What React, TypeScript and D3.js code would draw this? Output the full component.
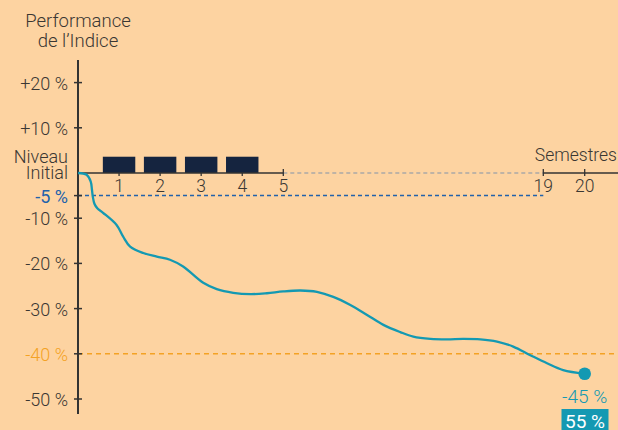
import React from 'react';
import * as d3 from 'd3';

// y axis ticks (percent)
const yTicks = [20, 10, -10, -20, -30, -40, -50];
const yTickLabels = ['+20 %', '+10 %', '-10 %', '-20 %', '-30 %', '-40 %', '-50 %'];
// x axis semesters
const xTicks = [1, 2, 3, 4, 5, 19, 20];
// coupon bars for semesters 1..4 (height in %)
const barSemesters = [1, 2, 3, 4];
const barValues = [3.6, 3.6, 3.6, 3.6];
// index performance path (semester, %)
const perfX = [0, 0.21, 0.31, 0.34, 0.36, 0.4, 0.47, 0.61, 0.94, 1.1, 1.27, 1.59, 1.92, 2.24, 2.56, 3.05, 3.38, 3.78, 4.2, 4.6, 5.0, 5.92, 6.81, 7.69, 8.61, 9.51, 10.39, 11.3, 12.0, 12.92, 13.82, 14.69, 15.61, 16.51, 17.38, 18.3, 19.09, 19.48, 20];
const perfY = [0, -0.4, -1.9, -3.7, -5.2, -6.8, -7.8, -8.8, -11.5, -14.1, -16.3, -17.7, -18.5, -19.2, -20.7, -24.3, -25.7, -26.5, -26.8, -26.6, -26.2, -26.0, -26.3, -27.4, -29.2, -31.4, -33.6, -35.2, -36.2, -36.7, -36.8, -36.7, -36.8, -37.3, -38.4, -40.3, -42.1, -43.6, -44.4];
const barrierLevel = -5;
const protectionLevel = -40;
const finalLabel = '-45 %';
const boxLabel = '55 %';

const W = 618;
const H = 430;
const font = 'Roboto, "Open Sans", sans-serif';
const textCol = '#3a3733';
const teal = '#1499b2';
const orange = '#f4a224';
const blue = '#2262ab';

export default function App() {
  const x = d3.scaleLinear().domain([0, 5, 19, 20]).range([78, 283.3, 543.3, 584.7]);
  const y = d3.scaleLinear().domain([0, -50]).range([173, 399]);
  const axisX = x(0);
  const y0 = y(0);

  const pts: [number, number][] = perfX.map((v, i) => [v, perfY[i]]);
  const line = d3.line<[number, number]>()
    .x(d => x(d[0]))
    .y(d => y(d[1]))
    .curve(d3.curveCatmullRom.alpha(0.5));

  const last = pts[pts.length - 1];
  const halfBar = 0.395;

  return (
    <svg width={W} height={H} style={{ position: 'absolute', left: 0, top: 0, fontFamily: font, fontWeight: 300 }}>
      <rect x={0} y={0} width={W} height={H} fill="#fdd3a1" />

      {/* title */}
      <text x={78} y={27} textAnchor="middle" fontSize={18.5} fill={textCol}>Performance</text>
      <text x={78} y={47} textAnchor="middle" fontSize={18.5} fill={textCol}>de l’Indice</text>

      {/* reference lines */}
      <line x1={axisX} x2={x(19)} y1={y(barrierLevel)} y2={y(barrierLevel)} stroke={blue} strokeWidth={1.5} strokeDasharray="4,3" />
      <line x1={axisX} x2={W} y1={y(protectionLevel)} y2={y(protectionLevel)} stroke={orange} strokeWidth={1.6} strokeDasharray="5,4" />

      {/* bars */}
      {barSemesters.map((s, i) => (
        <rect key={s} x={x(s - halfBar)} width={x(s + halfBar) - x(s - halfBar)} y={y(barValues[i])} height={y0 - y(barValues[i])} fill="#15243f" />
      ))}

      {/* x axis */}
      <line x1={axisX} x2={x(5)} y1={y0} y2={y0} stroke="#333" strokeWidth={1.5} />
      <line x1={x(5)} x2={x(19)} y1={y0} y2={y0} stroke="#aaa9a6" strokeWidth={1.3} strokeDasharray="4,3" />
      <line x1={x(19)} x2={W} y1={y0} y2={y0} stroke="#333" strokeWidth={1.5} />
      {xTicks.map(t => (
        <g key={t}>
          <line x1={x(t)} x2={x(t)} y1={t >= 5 ? y0 - 4 : y0} y2={y0 + 3} stroke="#333" strokeWidth={1.3} />
          <text x={x(t)} y={192} textAnchor="middle" fontSize={17.5} fill={textCol}>{t}</text>
        </g>
      ))}
      <text x={617} y={161} textAnchor="end" fontSize={17.5} fill={textCol}>Semestres</text>

      {/* y axis */}
      <line x1={axisX} x2={axisX} y1={60} y2={414} stroke="#333" strokeWidth={2} />
      {yTicks.map((t, i) => (
        <g key={t}>
          <line x1={axisX - 4} x2={axisX + 4} y1={y(t)} y2={y(t)} stroke="#333" strokeWidth={1.5} />
          <text x={68} y={y(t) + 7} textAnchor="end" fontSize={18} fill={t === protectionLevel ? orange : textCol}>{yTickLabels[i]}</text>
        </g>
      ))}
      <line x1={axisX - 4} x2={axisX + 4} y1={y(barrierLevel)} y2={y(barrierLevel)} stroke="#333" strokeWidth={1.5} />
      <text x={68} y={y(barrierLevel) + 7} textAnchor="end" fontSize={18} fill={blue} fontWeight={400}>-5 %</text>
      <text x={68} y={162.5} textAnchor="end" fontSize={18} fill={textCol}>Niveau</text>
      <text x={68} y={179} textAnchor="end" fontSize={18} fill={textCol}>Initial</text>

      {/* performance */}
      <path d={line(pts) || ''} fill="none" stroke={teal} strokeWidth={2.3} />
      <circle cx={x(last[0])} cy={y(last[1])} r={6.3} fill={teal} />
      <text x={x(last[0])} y={403} textAnchor="middle" fontSize={19} fill={teal}>{finalLabel}</text>
      <rect x={561.5} y={409} width={47} height={22} fill={teal} />
      <text x={585} y={428} textAnchor="middle" fontSize={19} fill="#fff" fontWeight={400}>{boxLabel}</text>
    </svg>
  );
}
